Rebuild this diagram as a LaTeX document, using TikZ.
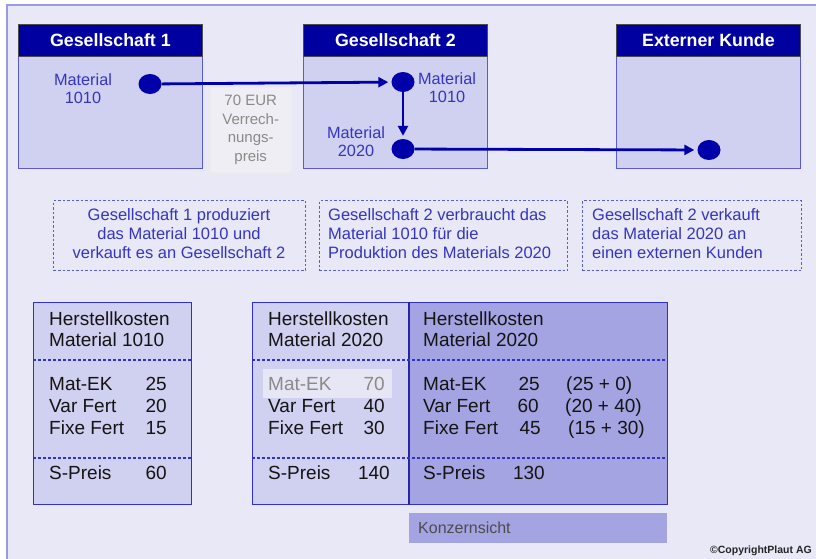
\documentclass[tikz,border=0pt]{standalone}
\usepackage{fontspec}
\setmainfont{Liberation Sans}
\usetikzlibrary{shapes.geometric,arrows.meta}
\definecolor{bg}{HTML}{E8E8F6}
\definecolor{framec}{HTML}{9A9ADE}
\definecolor{hdrblue}{HTML}{0000A0}
\definecolor{bodyfill}{HTML}{D0D0F0}
\definecolor{bodyline}{HTML}{5A5AD6}
\definecolor{dotblue}{HTML}{0000AA}
\definecolor{txtblue}{HTML}{3535C0}
\definecolor{darkfill}{HTML}{A4A4E2}
\definecolor{tabline}{HTML}{3030CC}
\definecolor{graytxt}{HTML}{8A8A8A}
\definecolor{tabtext}{HTML}{141414}
\definecolor{pricefill}{HTML}{EEEEF4}
\definecolor{hilite}{HTML}{E6E6F4}
\begin{document}
\begin{tikzpicture}[x=1pt,y=-1pt,
  bodybox/.style={draw=bodyline,fill=bodyfill,line width=1.2pt,minimum width=184,minimum height=144,anchor=north west,inner sep=0},
  hdr/.style={draw=black!70,fill=hdrblue,line width=0.8pt,minimum width=184,minimum height=32,anchor=north west,inner sep=0,text=white,font=\fontsize{17.8}{20}\selectfont\bfseries},
  dot/.style={ellipse,fill=dotblue,minimum width=23,minimum height=20,inner sep=0},
  flow/.style={draw=dotblue,line width=2.8pt,-{Triangle[length=10pt,width=10pt]},shorten >=3pt},
  matlbl/.style={text=txtblue,align=center,inner sep=0,font=\fontsize{16.3}{18}\selectfont},
  pricebox/.style={fill=pricefill,draw=white!85!gray,line width=0.4pt,minimum width=81,minimum height=85,anchor=north west,inner sep=0,align=center,text=graytxt,font=\fontsize{15}{18.6}\selectfont},
  notebox/.style={draw=bodyline,dashed,dash pattern=on 2.5pt off 2pt,line width=1.4pt,minimum height=70,anchor=north west,inner sep=0},
  notetxt/.style={text=txtblue,inner sep=0,font=\fontsize{16.5}{19}\selectfont},
  tab/.style={draw=tabline,line width=1.2pt,fill=bodyfill,minimum height=202,anchor=north west,inner sep=0},
  tabdash/.style={draw=tabline,dashed,dash pattern=on 3pt off 2pt,line width=1.2pt},
  tt/.style={text=tabtext,inner sep=0,anchor=base west,font=\fontsize{19}{21}\selectfont},
  tn/.style={text=tabtext,inner sep=0,anchor=base east,font=\fontsize{19}{21}\selectfont}
]
\useasboundingbox (0,0) rectangle (816,558);
\fill[white] (0,0) rectangle (816,558);
\draw[framec,fill=bg,line width=1.5pt] (7,5) rectangle (830,570);

% company boxes
\node[bodybox] (g1) at (18,24) {};
\node[hdr] (g1h) at (18,24) {Gesellschaft 1};
\node[bodybox] (g2) at (303,24) {};
\node[hdr] (g2h) at (303,24) {Gesellschaft 2};
\node[bodybox] (ek) at (616,24) {};
\node[hdr] (ekh) at (616,24) {Externer Kunde};

% price box
\node[pricebox] (price) at (210,87) {70 EUR\\Verrech-\\nungs-\\preis};

% material labels
\node[matlbl] (m1) at (83,89) {Material\\1010};
\node[matlbl] (m2) at (447,88) {Material\\1010};
\node[matlbl] (m3) at (356,142) {Material\\2020};

% dots and flows
\node[dot] (d1) at (150,84) {};
\node[dot] (d2) at (403,82) {};
\node[dot] (d3) at (403,149) {};
\node[dot] (d4) at (709,150) {};
\draw[flow] (d1) -- (d2);
\draw[flow] (d2) -- (d3);
\draw[flow] (d3) -- (d4);

% notes
\node[notebox,minimum width=252] (n1) at (53,200) {};
\node[notetxt,align=center] (n1t) at (179,234) {Gesellschaft 1 produziert\\das Material 1010 und\\verkauft es an Gesellschaft 2};
\node[notebox,minimum width=248] (n2) at (319,200) {};
\node[notetxt,align=left,anchor=west] (n2t) at (328,234) {Gesellschaft 2 verbraucht das\\Material 1010 für die\\Produktion des Materials 2020};
\node[notebox,minimum width=219] (n3) at (582,200) {};
\node[notetxt,align=left,anchor=west] (n3t) at (592,234) {Gesellschaft 2 verkauft\\das Material 2020 an\\einen externen Kunden};

% tables
\node[tab,minimum width=158] (t1) at (33,302) {};
\node[tab,minimum width=157] (t2) at (252,302) {};
\node[tab,minimum width=258,fill=darkfill] (t3) at (409,302) {};
\draw[draw=tabline!80!black,line width=2pt] (t3.north west) -- (t3.south west);
\draw[tabdash] (t1.north west) ++(0,58) -- ++(158,0);
\draw[tabdash] (t1.north west) ++(0,156) -- ++(158,0);
\draw[tabdash] (t2.north west) ++(0,58) -- ++(415,0);
\draw[tabdash] (t2.north west) ++(0,156) -- ++(415,0);

% table 1
\node[tt] (a1) at (49,325) {Herstellkosten};
\node[tt] (a2) at (49,346) {Material 1010};
\node[tt] (a3) at (49,390) {Mat-EK};
\node[tt] (a4) at (49,412) {Var Fert};
\node[tt] (a5) at (49,434) {Fixe Fert};
\node[tt] (a6) at (49,479) {S-Preis};
\node[tn] (a3n) at (167,390) {25};
\node[tn] (a4n) at (167,412) {20};
\node[tn] (a5n) at (167,434) {15};
\node[tn] (a6n) at (167,479) {60};

% table 2
\fill[hilite] (263,369) rectangle (392,398);
\node[tt] (b1) at (268,325) {Herstellkosten};
\node[tt] (b2) at (268,346) {Material 2020};
\node[tt,text=graytxt] (b3) at (268,390) {Mat-EK};
\node[tt] (b4) at (268,412) {Var Fert};
\node[tt] (b5) at (268,434) {Fixe Fert};
\node[tt] (b6) at (268,479) {S-Preis};
\node[tn,text=graytxt] (b3n) at (385,390) {70};
\node[tn] (b4n) at (385,412) {40};
\node[tn] (b5n) at (385,434) {30};
\node[tn] (b6n) at (390,479) {140};

% table 3
\node[tt] (c1) at (423,325) {Herstellkosten};
\node[tt] (c2) at (423,346) {Material 2020};
\node[tt] (c3) at (423,390) {Mat-EK};
\node[tt] (c4) at (423,412) {Var Fert};
\node[tt] (c5) at (423,434) {Fixe Fert};
\node[tt] (c6) at (423,479) {S-Preis};
\node[tn] (c3n) at (540,390) {25};
\node[tn] (c4n) at (539,412) {60};
\node[tn] (c5n) at (541,434) {45};
\node[tn] (c6n) at (545,479) {130};
\node[tt] (c3p) at (566,390) {(25 + 0)};
\node[tt] (c4p) at (565,412) {(20 + 40)};
\node[tt] (c5p) at (568,434) {(15 + 30)};

% Konzernsicht
\node[fill=darkfill,minimum width=258,minimum height=30,anchor=north west,inner sep=0] (kz) at (409,513) {};
\node[anchor=west,inner sep=0,text=black!70,font=\fontsize{16}{18}\selectfont] (kzt) at (418,528) {Konzernsicht};

% copyright
\node[anchor=base east,inner sep=0,text=black!85,font=\fontsize{10.5}{12}\selectfont\bfseries] (copy) at (812,553) {©CopyrightPlaut AG};
\end{tikzpicture}
\end{document}
